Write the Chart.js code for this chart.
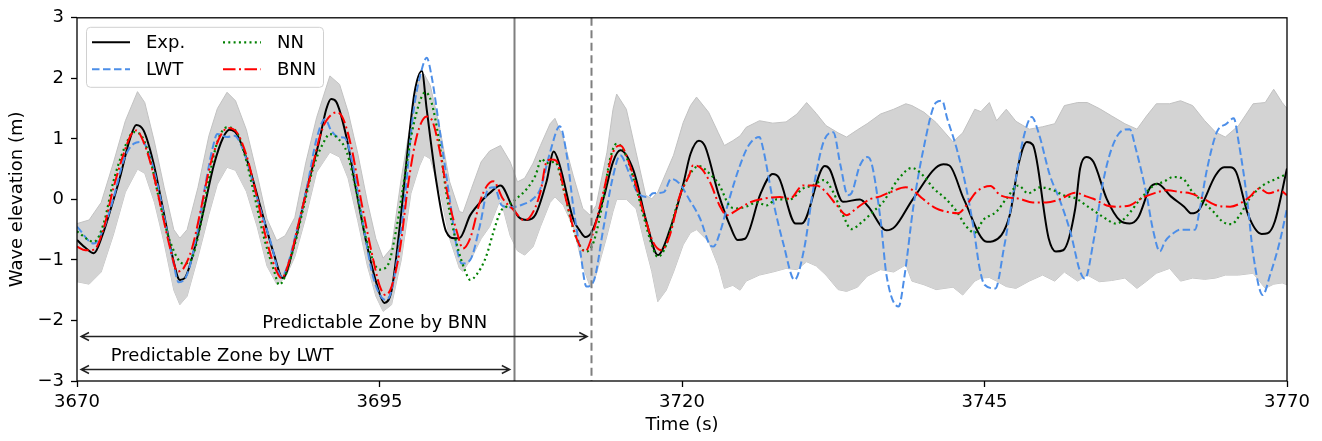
<!DOCTYPE html>
<html>
<head>
<meta charset="utf-8">
<title>Wave elevation</title>
<script src="https://cdn.jsdelivr.net/npm/chart.js@4.4.1/dist/chart.umd.min.js"></script>
<style>
  html, body { margin: 0; padding: 0; background: #fff; }
  #wrap { width: 1322px; height: 441px; position: relative; }
</style>
</head>
<body>
<div id="wrap"><canvas id="waveChart"></canvas></div>
<script>
// measured record (Exp.)
const expT = [
  3670, 3670.7, 3671.4, 3672.1, 3672.8, 3673.6, 3674.3, 3674.9, 3675.5, 3676.3,
  3677.1, 3677.9, 3678.5, 3678.9, 3679.7, 3680.5, 3681.3, 3682.1, 3682.6, 3683.2,
  3684.1, 3685.2, 3686.3, 3687, 3688, 3689, 3690, 3690.6, 3691, 3691.4,
  3692.3, 3693.1, 3693.9, 3694.8, 3695.4, 3696, 3696.7, 3697.4, 3697.9, 3698.5,
  3698.9, 3699.7, 3700.5, 3701.2, 3701.6, 3702.5, 3703.6, 3704.2, 3705, 3706,
  3706.5, 3707.2, 3707.9, 3708.8, 3709.4, 3709.9, 3711, 3711.6, 3712, 3712.5,
  3713.5, 3714.3, 3714.9, 3716, 3717.1, 3718, 3719, 3720.1, 3720.7, 3721.4,
  3721.9, 3723, 3724, 3724.6, 3725.2, 3726.5, 3727.5, 3728, 3729.4, 3729.9,
  3731.8, 3732.2, 3733.3, 3734.7, 3735.4, 3736.6, 3736.9, 3737.6, 3739.1, 3741.6,
  3742.1, 3743.3, 3745.2, 3745.7, 3747.1, 3747.8, 3748.5, 3749, 3750.3, 3750.9,
  3751.5, 3752.5, 3752.9, 3753.4, 3754, 3755.1, 3756.2, 3757, 3757.7, 3758.7,
  3759.3, 3760.4, 3761.5, 3762.1, 3762.7, 3764.1, 3764.8, 3765.3, 3765.8, 3766.8,
  3767.9, 3768.4, 3769, 3770
]
const expV = [
  -0.67, -0.8, -0.89, -0.59, -0.15, 0.4, 0.95, 1.23, 1.14, 0.62,
  -0.15, -0.95, -1.33, -1.3, -0.82, -0.15, 0.56, 1.03, 1.15, 1.08,
  0.62, -0.15, -0.92, -1.3, -0.7, 0.18, 0.95, 1.49, 1.66, 1.62,
  1.0, 0.12, -0.7, -1.42, -1.71, -1.5, -0.4, 0.95, 1.77, 2.12,
  1.49, 0.29, -0.53, -0.64, -0.64, -0.26, 0.01, 0.12, 0.23, -0.13,
  -0.29, -0.34, -0.25, 0.29, 0.79, 0.56, -0.32, -0.53, -0.62, -0.55,
  0.01, 0.62, 0.81, 0.47, -0.4, -0.92, -0.5, 0.25, 0.75, 0.97,
  0.88, 0.1, -0.45, -0.67, -0.65, 0.1, 0.42, 0.36, -0.4, -0.4,
  0.55, 0.5, -0.04, 0.0, -0.12, -0.48, -0.51, -0.45, 0.01, 0.58,
  0.56, 0.0, -0.7, -0.69, -0.25, 0.57, 0.95, 0.9, -0.64, -0.86,
  -0.84, -0.15, 0.51, 0.7, 0.62, 0.01, -0.35, -0.4, -0.3, 0.2,
  0.26, 0.05, -0.12, -0.23, -0.18, 0.4, 0.53, 0.53, 0.45, -0.26,
  -0.57, -0.56, -0.36, 0.51
]

// linear wave theory prediction
const lwtT = [
  3670, 3671.4, 3672.2, 3673, 3673.9, 3674.7, 3675.4, 3675.9, 3676.6, 3677.4,
  3678, 3678.4, 3679.1, 3679.9, 3680.6, 3681.2, 3681.6, 3682.4, 3683, 3683.8,
  3684.9, 3686, 3686.9, 3688.2, 3689, 3689.8, 3690.5, 3691, 3691.6, 3692.1,
  3692.8, 3693.7, 3694.5, 3695.5, 3696, 3697, 3697.8, 3698.5, 3698.9, 3699.3,
  3700, 3700.8, 3701.4, 3701.8, 3702.5, 3703.3, 3704, 3704.5, 3705.1, 3705.8,
  3706.6, 3707.7, 3708.3, 3709.1, 3709.9, 3710.5, 3711, 3711.6, 3712.1, 3712.7,
  3713.5, 3714.2, 3714.9, 3715.6, 3716.3, 3717.2, 3717.6, 3718.5, 3719.1, 3719.8,
  3720.6, 3721.5, 3722.3, 3722.6, 3723.1, 3723.9, 3724.7, 3725.5, 3726.4, 3726.7,
  3727.5, 3728.4, 3729.3, 3730.1, 3730.9, 3731.7, 3732.5, 3733.1, 3733.7, 3734,
  3734.7, 3735.3, 3735.5, 3736.4, 3736.9, 3737.9, 3738.4, 3739.1, 3739.9, 3741,
  3741.5, 3741.9, 3742.7, 3743.5, 3744.1, 3744.6, 3745, 3745.9, 3746.6, 3747.4,
  3748.2, 3748.9, 3749.5, 3750.4, 3751.2, 3752.1, 3752.9, 3753.3, 3754, 3754.8,
  3755.6, 3756.4, 3757, 3757.5, 3758.4, 3758.9, 3759.5, 3759.9, 3760.6, 3761.2,
  3762.4, 3762.8, 3763.4, 3764.2, 3765, 3765.6, 3766, 3766.7, 3767.2, 3768,
  3768.6, 3769.4, 3770
]
const lwtV = [
  -0.45, -0.73, -0.48, 0.01, 0.67, 0.92, 0.95, 0.78, 0.29, -0.48,
  -1.08, -1.37, -1.24, -0.59, 0.23, 0.84, 1.08, 1.03, 1.05, 0.78,
  0.01, -0.7, -1.27, -0.48, 0.2, 1.0, 1.33, 1.14, 1.03, 1.02,
  0.56, -0.48, -1.3, -1.66, -1.5, -0.15, 1.44, 2.15, 2.34, 2.04,
  1.11, 0.01, -0.81, -1.06, -1.0, -0.43, 0.18, 0.2, -0.1, -0.13,
  -0.1, 0.01, 0.18, 0.78, 1.21, 0.7, -0.1, -0.87, -1.44, -1.35,
  -0.48, 0.29, 0.73, 0.45, 0.12, 0.04, 0.1, 0.12, 0.34, 0.26,
  0.0, -0.32, -0.75, -0.78, -0.57, 0.0, 0.51, 0.89, 1.03, 0.84,
  0.0, -0.75, -1.33, -0.81, 0.23, 0.95, 1.11, 0.56, 0.07, 0.1,
  0.56, 0.7, 0.68, -0.32, -1.25, -1.77, -1.25, -0.15, 0.78, 1.6,
  1.63, 1.35, 0.84, 0.18, -0.48, -1.14, -1.41, -1.47, -0.81, 0.12,
  1.0, 1.36, 1.08, 0.4, 0.0, -0.54, -1.19, -1.31, -0.7, 0.29,
  0.89, 1.14, 1.16, 0.84, 0.07, -0.48, -0.86, -0.7, -0.56, -0.5,
  -0.5, -0.15, 0.51, 1.11, 1.25, 1.34, 0.95, 0.01, -0.9, -1.58,
  -1.25, -0.7, -0.15
]

// neural network prediction
const nnT = [
  3670, 3671.4, 3672.2, 3673, 3673.9, 3674.7, 3675.4, 3676.1, 3676.9, 3677.7,
  3678.8, 3679.5, 3680.2, 3680.9, 3681.6, 3682.4, 3683.1, 3683.8, 3684.6, 3685.4,
  3686.3, 3686.7, 3687.9, 3688.7, 3689.5, 3690.4, 3690.9, 3691.6, 3692.3, 3693.1,
  3693.9, 3695, 3695.7, 3696.4, 3697.1, 3697.8, 3698.8, 3699.3, 3699.9, 3700.6,
  3701.4, 3702.1, 3702.5, 3703, 3703.8, 3704.4, 3705, 3705.5, 3706.3, 3707.2,
  3707.9, 3708.4, 3708.8, 3709.5, 3710.2, 3711, 3711.7, 3712.1, 3712.7, 3713.5,
  3714, 3714.6, 3715.1, 3716, 3716.8, 3717.5, 3718, 3718.7, 3719.5, 3720.3,
  3721.4, 3722.2, 3723.1, 3723.9, 3724.5, 3725.3, 3726.2, 3727, 3727.8, 3728.9,
  3730, 3730.8, 3731.7, 3732.5, 3733.3, 3734, 3734.9, 3735.8, 3736.6, 3737.1,
  3737.9, 3739, 3739.9, 3740.8, 3741.8, 3742.7, 3743.5, 3744.2, 3744.9, 3746,
  3746.8, 3747.8, 3748.6, 3749.6, 3750.7, 3751.5, 3752.6, 3753.4, 3754, 3754.8,
  3755.9, 3756.7, 3757.9, 3759, 3759.8, 3760.6, 3761.4, 3762.2, 3763.1, 3763.9,
  3764.7, 3765.4, 3766.1, 3766.9, 3768, 3769.1, 3770
]
const nnV = [
  -0.53, -0.7, -0.4, 0.29, 0.84, 1.11, 1.03, 0.62, -0.1, -0.7,
  -1.06, -0.97, -0.43, 0.34, 0.95, 1.19, 1.14, 0.78, 0.12, -0.59,
  -1.19, -1.41, -0.81, -0.15, 0.51, 0.95, 1.08, 1.0, 0.78, 0.12,
  -0.65, -1.16, -1.08, -0.48, 0.4, 1.22, 1.77, 1.6, 1.0, 0.01,
  -0.75, -1.19, -1.33, -1.25, -0.95, -0.55, -0.2, -0.12, 0.01, 0.18,
  0.4, 0.67, 0.6, 0.62, 0.18, -0.48, -0.81, -0.86, -0.7, 0.01,
  0.62, 0.92, 0.84, 0.34, -0.26, -0.75, -0.95, -0.75, -0.15, 0.29,
  0.55, 0.44, 0.23, -0.1, -0.15, -0.12, -0.05, -0.1, 0.0, 0.0,
  0.18, 0.23, 0.32, 0.12, -0.26, -0.49, -0.37, -0.2, -0.05, 0.1,
  0.34, 0.52, 0.4, 0.18, 0.01, -0.2, -0.45, -0.55, -0.34, -0.2,
  0.01, 0.23, 0.1, 0.2, 0.15, 0.07, 0.01, -0.1, -0.18, -0.29,
  -0.4, -0.29, 0.01, 0.23, 0.29, 0.37, 0.34, 0.12, -0.05, -0.2,
  -0.37, -0.41, -0.26, 0.01, 0.23, 0.34, 0.42
]

// bayesian neural network mean
const bnnT = [
  3670, 3670.7, 3671.4, 3672.2, 3673, 3673.9, 3674.5, 3674.9, 3675.5, 3676.2,
  3676.9, 3677.7, 3678.3, 3678.8, 3679.5, 3680.2, 3681, 3681.8, 3682.5, 3683.2,
  3684, 3684.9, 3685.7, 3686.5, 3686.9, 3687.6, 3688.4, 3689.3, 3690.1, 3690.6,
  3691.5, 3692, 3692.7, 3693.5, 3694.4, 3695, 3695.5, 3696, 3696.7, 3697.4,
  3698.1, 3698.9, 3699.4, 3700, 3700.7, 3701.4, 3701.9, 3702.5, 3703.3, 3703.9,
  3704.4, 3705.2, 3706.1, 3706.9, 3707.4, 3708.3, 3708.8, 3709.2, 3709.6, 3710.4,
  3711.3, 3712, 3712.5, 3713.5, 3714.3, 3714.9, 3715.7, 3716.8, 3717.6, 3718.3,
  3719, 3719.8, 3720.6, 3720.9, 3721.4, 3722.3, 3723.1, 3723.7, 3724.5, 3725.6,
  3726.7, 3728.1, 3728.9, 3730, 3731.1, 3731.9, 3732.8, 3733.6, 3734.4, 3735.5,
  3736.4, 3737.2, 3738.5, 3739.1, 3739.9, 3741, 3741.8, 3742.8, 3743.5, 3744.3,
  3745.5, 3746.3, 3747.9, 3749, 3750.1, 3751.2, 3752.5, 3753.4, 3754, 3755.1,
  3755.9, 3757, 3757.9, 3759, 3760.1, 3761.2, 3762, 3763.1, 3764.2, 3765.3,
  3766.1, 3766.9, 3767.7, 3768.5, 3769.4, 3770
]
const bnnV = [
  -0.78, -0.84, -0.83, -0.48, 0.18, 0.78, 1.08, 1.14, 0.95, 0.51,
  -0.1, -0.81, -1.19, -1.14, -0.81, -0.2, 0.56, 1.03, 1.18, 1.11,
  0.73, 0.01, -0.7, -1.19, -1.3, -0.98, -0.32, 0.4, 1.06, 1.3,
  1.44, 1.33, 0.84, -0.04, -0.92, -1.42, -1.58, -1.44, -0.81, 0.29,
  1.06, 1.37, 1.28, 0.78, 0.01, -0.54, -0.81, -0.64, -0.04, 0.23,
  0.3, 0.01, -0.18, -0.34, -0.3, 0.12, 0.62, 0.66, 0.64, 0.01,
  -0.65, -0.86, -0.65, 0.12, 0.78, 0.89, 0.56, -0.2, -0.7, -0.84,
  -0.59, 0.05, 0.4, 0.56, 0.54, 0.29, -0.1, -0.26, -0.18, -0.05,
  0.01, 0.04, 0.01, 0.23, 0.23, 0.12, -0.1, -0.26, -0.15, 0.0,
  0.05, 0.12, 0.2, 0.15, 0.01, -0.15, -0.2, -0.23, -0.1, 0.12,
  0.22, 0.07, 0.01, -0.05, -0.05, 0.0, 0.11, 0.05, 0.01, -0.1,
  -0.12, -0.1, 0.01, 0.1, 0.15, 0.12, 0.1, 0.01, -0.1, -0.12,
  -0.07, 0.04, 0.18, 0.1, 0.15, 0.07
]

// BNN uncertainty band
const bandT = [
  3670, 3671, 3672, 3673, 3674, 3675, 3675.6, 3676.4, 3677.2, 3678,
  3678.5, 3679.1, 3680, 3680.9, 3681.6, 3682.4, 3683.1, 3684, 3684.9, 3685.7,
  3686.5, 3687.2, 3688, 3688.9, 3689.8, 3690.9, 3691.7, 3692.4, 3693.2, 3694,
  3694.7, 3695.3, 3696, 3696.8, 3697.6, 3698.3, 3698.7, 3699.2, 3700, 3700.8,
  3701.6, 3701.9, 3702.6, 3703.4, 3704.1, 3705, 3705.8, 3706.4, 3707, 3707.7,
  3708.3, 3709.1, 3709.5, 3710.2, 3711, 3711.8, 3712.4, 3712.9, 3713.8, 3714.3,
  3714.6, 3715.4, 3716.2, 3717, 3717.5, 3718, 3718.7, 3719.3, 3720.1, 3720.7,
  3721.2, 3722.2, 3723, 3723.5, 3724.2, 3724.8, 3725.3, 3726.4, 3727.5, 3728.6,
  3729.5, 3730.3, 3731.1, 3731.9, 3732.9, 3733.6, 3734.5, 3735.3, 3736.4, 3737.5,
  3738.5, 3739, 3740, 3741, 3742.4, 3743.2, 3744.2, 3744.7, 3745.4, 3746,
  3746.8, 3747.6, 3748.7, 3749.8, 3750.8, 3751.6, 3752.7, 3753.5, 3754.5, 3755.5,
  3756.6, 3757.6, 3758.4, 3759.2, 3760.3, 3761.2, 3762.2, 3763.2, 3764.1, 3764.9,
  3766, 3767.2, 3768.2, 3768.9, 3769.6, 3770
]
const bandHi = [
  -0.4, -0.34, -0.05, 0.6, 1.3, 1.78, 1.6, 0.95, 0.2, -0.5,
  -0.64, -0.5, 0.2, 1.05, 1.5, 1.77, 1.63, 1.15, 0.4, -0.32,
  -0.68, -0.6, -0.3, 0.6, 1.35, 2.04, 1.9, 1.45, 0.76, -0.04,
  -0.65, -0.97, -0.8, 0.35, 1.3, 1.99, 2.07, 1.88, 1.16, 0.29,
  -0.2, -0.22, 0.18, 0.62, 0.8, 0.89, 0.62, 0.29, 0.35, 0.6,
  0.89, 1.25, 1.34, 1.0, 0.4, -0.15, -0.26, -0.1, 0.78, 1.49,
  1.74, 1.49, 0.78, 0.07, 0.01, 0.12, 0.45, 0.73, 1.27, 1.55,
  1.69, 1.44, 1.1, 0.89, 0.97, 1.05, 1.19, 1.3, 1.26, 1.28,
  1.41, 1.6, 1.42, 1.22, 1.1, 1.03, 1.15, 1.25, 1.41, 1.49,
  1.58, 1.55, 1.44, 1.27, 0.95, 1.1, 1.49, 1.45, 1.6, 1.3,
  1.49, 1.29, 1.16, 1.2, 1.25, 1.55, 1.6, 1.6, 1.5, 1.38,
  1.25, 1.16, 1.38, 1.58, 1.58, 1.63, 1.55, 1.3, 1.11, 1.03,
  1.22, 1.58, 1.6, 1.82, 1.6, 1.5
]
const bandLo = [
  -1.36, -1.4, -1.2, -0.59, 0.12, 0.5, 0.43, -0.05, -0.72, -1.5,
  -1.74, -1.6, -0.95, -0.25, 0.25, 0.53, 0.48, 0.13, -0.46, -1.1,
  -1.4, -1.3, -0.95, -0.3, 0.45, 0.78, 0.7, 0.35, -0.35, -1.1,
  -1.6, -1.85, -1.74, -1.0, 0.1, 0.55, 0.73, 0.67, 0.12, -0.65,
  -1.14, -1.19, -0.97, -0.65, -0.45, 0.01, -0.6, -0.85, -0.92, -0.78,
  -0.45, -0.05, 0.04, -0.1, -0.45, -1.1, -1.44, -1.25, -0.6, -0.2,
  0.0, 0.0, -0.15, -0.8, -1.19, -1.69, -1.5, -1.2, -0.75, -0.55,
  -0.5, -0.7, -1.1, -1.47, -1.42, -1.5, -1.35, -1.25, -1.2, -1.14,
  -1.16, -1.03, -1.1, -1.25, -1.49, -1.52, -1.45, -1.27, -1.16, -1.2,
  -1.08, -1.35, -1.41, -1.49, -1.45, -1.58, -1.35, -1.3, -1.29, -1.35,
  -1.44, -1.47, -1.35, -1.25, -1.35, -1.2, -1.35, -1.25, -1.36, -1.34,
  -1.3, -1.47, -1.35, -1.22, -1.14, -1.35, -1.3, -1.32, -1.3, -1.25,
  -1.25, -1.22, -1.47, -1.4, -1.38, -1.41
]

const xTicks = [3670, 3695, 3720, 3745, 3770]
const yTicks = [-3, -2, -1, 0, 1, 2, 3]

// predictable zones: LWT then BNN
const zoneLabels = ['Predictable Zone by LWT', 'Predictable Zone by BNN']
const zoneEnds = [3706.1, 3712.5]
const zoneArrowY = [-2.8, -2.26]
const zoneTextX = [3682.0, 3694.6]
const zoneTextY = [-2.6, -2.04]

const legendOrder = ['Exp.', 'LWT', 'NN', 'BNN']

const FONT = { family: 'DejaVu Sans', size: 18 }
const pts = (t, v) => t.map((x, i) => ({ x: x, y: v[i] }))

const notesPlugin = {
  id: 'notes',
  afterDatasetsDraw(chart) {
    const { ctx, chartArea: a } = chart
    const xs = chart.scales.x
    const ys = chart.scales.y
    ctx.save()

    // zone limit lines
    ctx.strokeStyle = '#7f7f7f'
    ctx.lineWidth = 2
    zoneEnds.forEach((t, i) => {
      const px = Math.round(xs.getPixelForValue(t)) + 0.5
      ctx.setLineDash(i === 0 ? [] : [8, 4.5])
      ctx.beginPath()
      ctx.moveTo(px, a.top)
      ctx.lineTo(px, a.bottom)
      ctx.stroke()
    })
    ctx.setLineDash([])

    // double-headed arrows
    ctx.strokeStyle = '#222'
    ctx.lineWidth = 1.4
    zoneEnds.forEach((t, i) => {
      const x1 = xs.getPixelForValue(3670) + 4
      const x2 = xs.getPixelForValue(t) - 4
      const py = Math.round(ys.getPixelForValue(zoneArrowY[i])) + 0.5
      ctx.beginPath()
      ctx.moveTo(x1, py); ctx.lineTo(x2, py)
      ctx.moveTo(x1 + 8, py - 4); ctx.lineTo(x1, py); ctx.lineTo(x1 + 8, py + 4)
      ctx.moveTo(x2 - 8, py - 4); ctx.lineTo(x2, py); ctx.lineTo(x2 - 8, py + 4)
      ctx.stroke()
    })

    // zone labels
    ctx.fillStyle = '#000'
    ctx.font = '18px "DejaVu Sans"'
    ctx.textAlign = 'center'
    ctx.textBaseline = 'middle'
    zoneLabels.forEach((txt, i) => {
      ctx.fillText(txt, xs.getPixelForValue(zoneTextX[i]), ys.getPixelForValue(zoneTextY[i]))
    })

    // axes frame
    ctx.strokeStyle = '#000'
    ctx.lineWidth = 1.3
    ctx.strokeRect(a.left, a.top, a.right - a.left, a.bottom - a.top)

    // legend box
    const bx = a.left + 9, by = a.top + 9, bw = 237, bh = 60
    ctx.beginPath()
    ctx.roundRect(bx + 0.5, by + 0.5, bw, bh, 4)
    ctx.fillStyle = 'rgba(255,255,255,0.8)'
    ctx.fill()
    ctx.strokeStyle = '#d0d0d0'
    ctx.lineWidth = 1
    ctx.stroke()

    ctx.textAlign = 'left'
    legendOrder.forEach((name, i) => {
      const ds = chart.data.datasets.find(d => d.label === name)
      const col = Math.floor(i / 2), row = i % 2
      const hx = bx + 6 + col * 131
      const ly = by + 15.5 + row * 27
      ctx.strokeStyle = ds.borderColor
      ctx.lineWidth = ds.borderWidth
      ctx.setLineDash(ds.borderDash || [])
      ctx.beginPath()
      ctx.moveTo(hx, ly); ctx.lineTo(hx + 38, ly)
      ctx.stroke()
      ctx.setLineDash([])
      ctx.fillStyle = '#000'
      ctx.fillText(name, hx + 54, ly + 1)
    })
    ctx.restore()
  }
}

const lineStyle = {
  pointRadius: 0,
  fill: false,
  cubicInterpolationMode: 'monotone',
  borderCapStyle: 'butt'
}

new Chart(document.getElementById('waveChart'), {
  type: 'line',
  data: {
    datasets: [
      { label: 'BNN', data: pts(bnnT, bnnV), borderColor: '#ff0000', borderWidth: 2, borderDash: [12.5, 3.5, 2, 3.5], ...lineStyle },
      { label: 'NN', data: pts(nnT, nnV), borderColor: '#008000', borderWidth: 2.2, borderDash: [2, 3.3], ...lineStyle },
      { label: 'LWT', data: pts(lwtT, lwtV), borderColor: '#4c8ee8', borderWidth: 2, borderDash: [7.5, 3.5], ...lineStyle },
      { label: 'Exp.', data: pts(expT, expV), borderColor: '#000000', borderWidth: 2, ...lineStyle },
      { label: 'band-hi', data: pts(bandT, bandHi), borderColor: '#c2c2c2', borderWidth: 1, pointRadius: 0, tension: 0, fill: '+1', backgroundColor: '#d3d3d3' },
      { label: 'band-lo', data: pts(bandT, bandLo), borderColor: '#c2c2c2', borderWidth: 1, pointRadius: 0, tension: 0, fill: false }
    ]
  },
  options: {
    responsive: true,
    maintainAspectRatio: false,
    animation: false,
    layout: { padding: { top: 15, right: 35, left: 0, bottom: 0 } },
    plugins: { legend: { display: false }, tooltip: { enabled: false } },
    scales: {
      x: {
        type: 'linear', min: 3670, max: 3770,
        afterBuildTicks: s => { s.ticks = xTicks.map(v => ({ value: v })) },
        afterFit: s => { s.height = 60 },
        ticks: { color: '#000', font: FONT, padding: 5, maxRotation: 0, autoSkip: false, callback: v => String(v) },
        grid: { drawOnChartArea: false, tickLength: 6, tickColor: '#000', tickWidth: 1.3 },
        border: { display: false },
        title: { display: true, text: 'Time (s)', color: '#000', font: FONT, padding: { top: 0, bottom: 5 } }
      },
      y: {
        type: 'linear', min: -3, max: 3,
        afterBuildTicks: s => { s.ticks = yTicks.map(v => ({ value: v })) },
        afterFit: s => { s.width = 77 },
        ticks: { color: '#000', font: FONT, padding: 7, callback: v => v < 0 ? '\u2212' + Math.abs(v) : String(v) },
        grid: { drawOnChartArea: false, tickLength: 6, tickColor: '#000', tickWidth: 1.3 },
        border: { display: false },
        title: { display: true, text: 'Wave elevation (m)', color: '#000', font: FONT, padding: { top: 7, bottom: 0 } }
      }
    }
  },
  plugins: [notesPlugin]
})
</script>
</body>
</html>
